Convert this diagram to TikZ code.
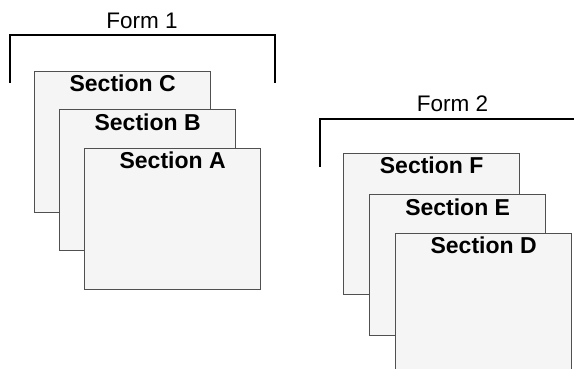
\documentclass[tikz,border=0pt]{standalone}
\usepackage{fontspec}
\setmainfont{Liberation Sans}
\definecolor{boxfill}{HTML}{F5F5F5}
\definecolor{boxline}{HTML}{505050}
\begin{document}
\begin{tikzpicture}[x=1pt,y=-1pt,
  secbox/.style={draw=boxline,fill=boxfill,line width=1.3pt,rectangle,anchor=north west,
     minimum width=176pt,minimum height=141pt,inner sep=0pt},
  sectitle/.style={anchor=base,font=\fontsize{23}{27}\selectfont\bfseries,inner sep=0pt},
  formtitle/.style={anchor=base,font=\fontsize{22.5}{27}\selectfont,inner sep=0pt},
  bracket/.style={draw=black,line width=1.1pt}]
\useasboundingbox (0,0) rectangle (574,369);
% Form 1
\draw[bracket] (10,83) -- (10,35) -- (275,35) -- (275,83);
\node[formtitle] (f1) at (142,29) {Form 1};
\node[secbox] (c) at (34,71) {};
\node[sectitle] at ([yshift=-21pt]c.north) {Section C};
\node[secbox] (b) at (59,109) {};
\node[sectitle] at ([yshift=-22pt]b.north) {Section B};
\node[secbox] (a) at (84,148) {};
\node[sectitle] at ([yshift=-20.5pt]a.north) {Section A};
% Form 2
\draw[bracket] (320,167) -- (320,119) -- (585,119);
\node[formtitle] (f2) at (452.5,111.5) {Form 2};
\node[secbox] (f) at (343,153) {};
\node[sectitle] at ([yshift=-21pt]f.north) {Section F};
\node[secbox] (e) at (369,194) {};
\node[sectitle] at ([yshift=-21pt]e.north) {Section E};
\node[secbox] (d) at (395,233) {};
\node[sectitle] at ([yshift=-21pt]d.north) {Section D};
\end{tikzpicture}
\end{document}
